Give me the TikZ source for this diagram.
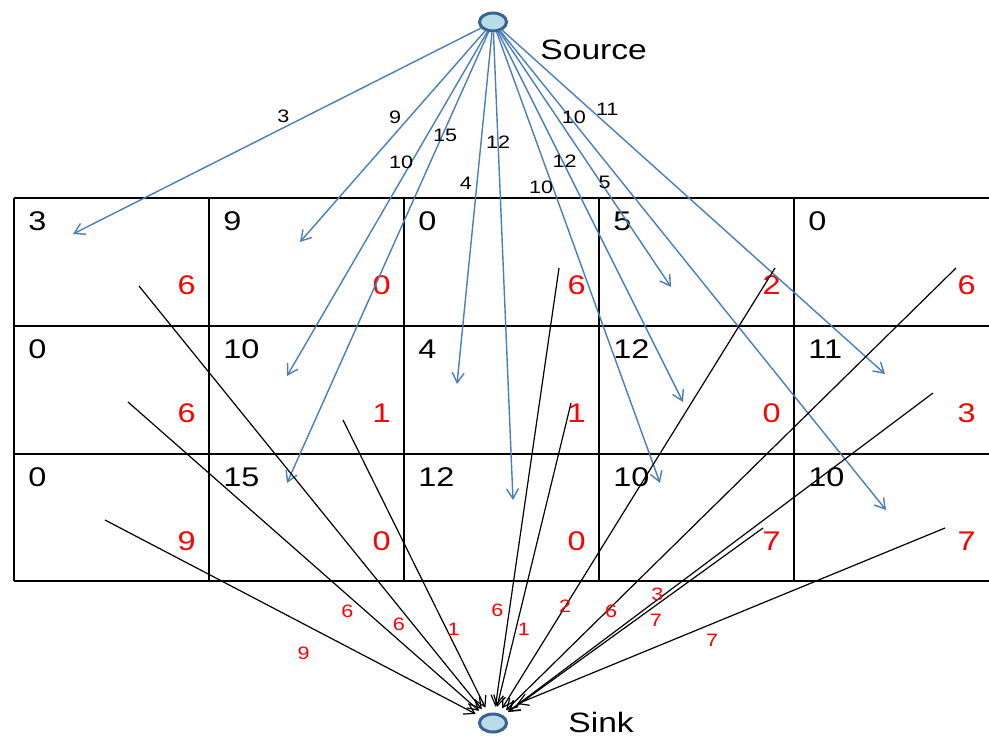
\documentclass[tikz,border=0pt]{standalone}
\usepackage{fontspec}
\setmainfont[FakeStretch=1.2]{Liberation Sans}
\usetikzlibrary{arrows.meta, shapes.geometric}
\definecolor{arcblue}{HTML}{4A7EBB}
\definecolor{termfill}{HTML}{B7DEE8}
\definecolor{termline}{HTML}{3B6390}
\tikzset{
	>={Straight Barb[length=5pt,width=6pt]},
	terminal/.style={ellipse, draw=termline, line width=1.5pt, fill=termfill,
		minimum width=13.5pt, minimum height=9pt, inner sep=0pt},
	tableline/.style={black, line width=1pt},
	supply/.style={->, arcblue, line width=0.7pt},
	demand/.style={->, black, line width=0.6pt, shorten >=3pt},
	cost/.style={anchor=west, inner sep=0pt, font=\fontsize{13.5}{16}\selectfont},
	need/.style={anchor=east, inner sep=0pt, text=red, font=\fontsize{13.5}{16}\selectfont},
	weight/.style={inner sep=0pt, text=black, font=\fontsize{9}{10}\selectfont},
	title/.style={anchor=west, inner sep=0pt, font=\fontsize{14}{17}\selectfont},
}

\begin{document}
\begin{tikzpicture}[x=0.5pt, y=-0.5pt]
	\useasboundingbox (0,0) rectangle (989,738);
	% table
	\foreach \y in {198,326,454,581}
		\draw[tableline] (14,\y) -- (989,\y);
	\foreach \x in {14,209,404,599,794}
		\draw[tableline] (\x,198) -- (\x,581);
	% cell values
	\foreach \x/\a/\b [count=\c] in {14/3/6, 209/9/0, 404/0/6, 599/5/2, 794/0/6} {
		\node[cost] (c1\c) at (\x+14,221) {\a};
		\node[need] (d1\c) at (\x+182,285) {\b};
	}
	\foreach \x/\a/\b [count=\c] in {14/0/6, 209/10/1, 404/4/1, 599/12/0, 794/11/3} {
		\node[cost] (c2\c) at (\x+14,349) {\a};
		\node[need] (d2\c) at (\x+182,413) {\b};
	}
	\foreach \x/\a/\b [count=\c] in {14/0/9, 209/15/0, 404/12/0, 599/10/7, 794/10/7} {
		\node[cost] (c3\c) at (\x+14,477) {\a};
		\node[need] (d3\c) at (\x+182,541) {\b};
	}

	\node[terminal] (src) at (493,22) {};
	\node[title] (srctext) at (540,50) {Source};
	\node[terminal] (snk) at (493,723) {};
	\node[title] (snktext) at (568,722) {Sink};

	% ends of the supply arrows
	\coordinate (in11) at (73,234);
	\coordinate (in12) at (300,242);
	\coordinate (in22) at (287,376);
	\coordinate (in32) at (287,483);
	\coordinate (in23) at (457,384);
	\coordinate (in33) at (513,500);
	\coordinate (in14) at (671,287);
	\coordinate (in24) at (683,402);
	\coordinate (in34) at (660,483);
	\coordinate (in25) at (885,374);
	\coordinate (in35) at (886,510);
	% starts of the demand arrows
	\coordinate (out11) at (139,286);
	\coordinate (out21) at (128,402);
	\coordinate (out31) at (105,520);
	\coordinate (out22) at (343,420);
	\coordinate (out13) at (559,268);
	\coordinate (out23) at (571,403);
	\coordinate (out14) at (775,268);
	\coordinate (out15) at (956,268);
	\coordinate (out25) at (933,393);
	\coordinate (out34) at (763,528);
	\coordinate (out35) at (945,528);
	\coordinate (tip35) at (517,704);

	\path[supply]
		(src) edge node[weight, pos=.43, xshift=-11pt] (f11) {3} (in11)
		(src) edge node[weight, pos=.41, xshift=-7pt] (f12) {9} (in12)
		(src) edge node[weight, pos=.38, xshift=-5pt] (f22) {10} (in22)
		(src) edge node[weight, pos=.23, xshift=1.5pt] (f32) {15} (in32)
		(src) edge node[weight, pos=.43, xshift=-5.5pt] (f23) {4} (in23)
		(src) edge node[weight, pos=.235] (f33) {12} (in33)
		(src) edge node[weight, pos=.59, xshift=2pt] (f14) {5} (in14)
		(src) edge node[weight, pos=.35, xshift=1pt] (f24) {12} (in24)
		(src) edge node[weight, pos=.345, xshift=-6pt] (f34) {10} (in34)
		(src) edge node[weight, pos=.23, xshift=8.5pt] (f25) {11} (in25)
		(src) edge node[weight, pos=.18, xshift=2pt] (f35) {10} (in35)
	;

	\path[demand]
		(out11) edge node[weight, text=red, pos=.79, xshift=-7pt] (g11) {6} (snk)
		(out21) edge node[weight, text=red, pos=.67, xshift=-9.5pt] (g21) {6} (snk)
		(out31) edge node[weight, text=red, pos=.68, xshift=-28.5pt] (g31) {9} (snk)
		(out22) edge node[weight, text=red, pos=.715, xshift=3.5pt] (g22) {1} (snk)
		(out13) edge node[weight, text=red, pos=.77, xshift=-6pt] (g13) {6} (snk)
		(out23) edge node[weight, text=red, pos=.73, xshift=4pt] (g23) {1} (snk)
		(out14) edge node[weight, text=red, pos=.76] (g14) {2} (snk)
		(out15) edge node[weight, text=red, pos=.77, xshift=2.5pt] (g15) {6} (snk)
		(out25) edge node[weight, text=red, pos=.625, xshift=-3.5pt] (g25) {3} (snk)
		(out34) edge node[weight, text=red, pos=.49, xshift=10pt] (g34) {7} (snk)
		(out35) edge[shorten >=0pt] node[weight, text=red, pos=.64, xshift=20.5pt] (g35) {7} (tip35)
	;
\end{tikzpicture}
\end{document}
